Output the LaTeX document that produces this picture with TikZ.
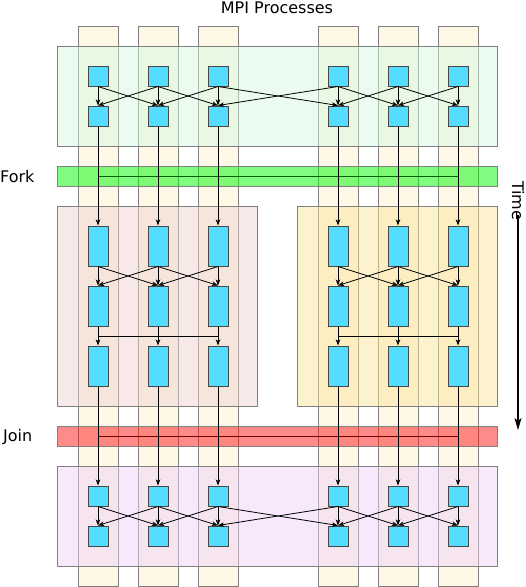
\documentclass[tikz,border=0pt]{standalone}
\usepackage{fontspec}
\setmainfont{DejaVu Sans}
\usetikzlibrary{arrows.meta,calc}
\definecolor{stripcol}{RGB}{255,248,230}
\definecolor{topcol}{RGB}{213,249,225}
\definecolor{botcol}{RGB}{239,211,247}
\definecolor{leftcol}{RGB}{239,211,209}
\definecolor{rightcol}{RGB}{251,229,157}
\definecolor{forkcol}{RGB}{1,249,1}
\definecolor{joincol}{RGB}{255,21,21}
\definecolor{proccol}{RGB}{85,221,255}
\definecolor{boxline}{RGB}{128,128,128}
\tikzset{
  groupbox/.style={draw=boxline, line width=0.9pt, fill opacity=0.5, inner sep=0pt, outer sep=0pt},
  stripbox/.style={draw=boxline, fill=stripcol,
    line width=0.9pt, inner sep=0pt, outer sep=0pt, minimum width=40pt, minimum height=560pt},
  sq/.style={draw=black!72, line width=1pt, fill=proccol, inner sep=0pt,
    minimum width=20pt, minimum height=20pt},
  tall/.style={sq, minimum height=40pt},
  msg/.style={draw=black, line width=0.8pt, -{Stealth[length=6pt,width=4.5pt,inset=1.5pt]}},
  bus/.style={draw=black, line width=0.8pt},
  lbl/.style={font=\fontsize{16}{19}\selectfont, inner sep=0pt}
}
\begin{document}
\begin{tikzpicture}[x=1pt,y=-1pt]
\useasboundingbox (0,0) rectangle (526,587);
% process strips
\foreach \i/\x in {1/98,2/158,3/218,4/338,5/398,6/458}
  \node[stripbox] (strip\i) at (\x,306) {};
% group boxes (translucent, over the strips)
\node[groupbox, fill=topcol, minimum width=440pt, minimum height=100pt] (topgrp) at (277,96) {};
\node[groupbox, fill=forkcol, minimum width=440pt, minimum height=20pt] (fork) at (277,176) {};
\node[groupbox, fill=leftcol, minimum width=200pt, minimum height=200pt] (leftgrp) at (157,306) {};
\node[groupbox, fill=rightcol, minimum width=200pt, minimum height=200pt] (rightgrp) at (397,306) {};
\node[groupbox, fill=joincol, minimum width=440pt, minimum height=20pt] (join) at (277,436) {};
\node[groupbox, fill=botcol, minimum width=440pt, minimum height=100pt] (botgrp) at (277,516) {};
% processes
\foreach \i/\x in {1/98,2/158,3/218,4/338,5/398,6/458}{
  \node[sq] (ta\i) at (\x,76) {};
  \node[sq] (tb\i) at (\x,116) {};
  \node[tall] (ma\i) at (\x,246) {};
  \node[tall] (mb\i) at (\x,306) {};
  \node[tall] (mc\i) at (\x,366) {};
  \node[sq] (ba\i) at (\x,496) {};
  \node[sq] (bb\i) at (\x,536) {};
}
% fork / join lines
\draw[line width=0.9pt, draw=green!38!black] (tb1.south |- fork.center) -- (tb6.south |- fork.center);
\draw[line width=0.9pt, draw=red!45!black] (mc1.south |- join.center) -- (mc6.south |- join.center);
% bus lines in the middle groups
\coordinate (busy) at (0,336);
\draw[bus] (mb1.south |- busy) -- (mb3.south |- busy);
\draw[bus] (mb4.south |- busy) -- (mb6.south |- busy);
% messages
\foreach \a/\b in {1/1,1/2,2/1,2/2,2/3,3/2,3/3,3/4,4/3,4/4,4/5,5/4,5/5,5/6,6/5,6/6}{
  \draw[msg] (ta\a.south) -- (tb\b.north);
  \draw[msg] (ba\a.south) -- (bb\b.north);
}
\foreach \a/\b in {1/1,1/2,2/1,2/2,2/3,3/2,3/3,4/4,4/5,5/4,5/5,5/6,6/5,6/6}
  \draw[msg] (ma\a.south) -- (mb\b.north);
\foreach \i in {1,...,6}{
  \draw[msg] (tb\i.south) -- (ma\i.north);
  \draw[msg] (mb\i.south) -- (mc\i.north);
  \draw[msg] (mc\i.south) -- (ba\i.north);
}
% labels
\node[lbl, anchor=base] (title) at (277,13) {MPI Processes};
\node[lbl, anchor=base west] (forklbl) at (0,182.5) {Fork};
\node[lbl, anchor=base west] (joinlbl) at (3,441.5) {Join};
\node[lbl, rotate=-90, anchor=west] (timelbl) at (518,181) {Time};
\coordinate (timeend) at (518,430);
\draw[line width=1.2pt, -{Stealth[length=12pt,width=7pt,inset=3pt]}] ([yshift=6pt]timelbl.east) -- (timeend);
\end{tikzpicture}
\end{document}
